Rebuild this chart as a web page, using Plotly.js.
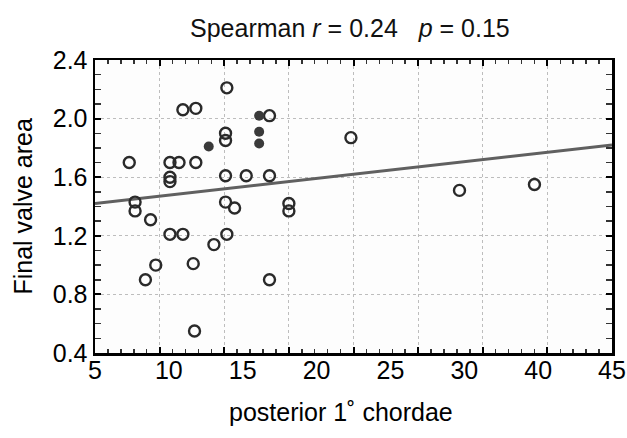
<!DOCTYPE html>
<html>
<head>
<meta charset="utf-8">
<script src="https://cdn.plot.ly/plotly-3.0.1.min.js"></script>
<style>html,body{margin:0;padding:0;background:#fff;}#chart{width:627px;height:438px;}</style>
</head>
<body>
<div id="chart"></div>
<script>
// posterior 1° chordae (x) vs final valve area (y)
const chordaeX = [15.2, 11.8, 12.8, 18.5, 15.1, 15.1, 7.65, 10.8, 11.5, 12.8,
  10.8, 10.8, 15.1, 16.7, 18.5, 8.1, 8.1, 15.1, 15.8, 20.0, 20.0, 9.3,
  10.8, 11.8, 14.2, 15.2, 9.7, 8.9, 12.6, 18.5, 12.7, 24.8, 33.2, 39.0];
const valveArea = [2.21, 2.06, 2.07, 2.02, 1.90, 1.85, 1.70, 1.70, 1.70, 1.70,
  1.60, 1.57, 1.61, 1.61, 1.61, 1.43, 1.37, 1.43, 1.39, 1.42, 1.37, 1.31,
  1.21, 1.21, 1.14, 1.21, 1.00, 0.90, 1.01, 0.90, 0.55, 1.87, 1.51, 1.55];
// overlapping points drawn as dark blobs
const overlapX = [17.7, 17.7, 17.7, 13.8];
const overlapY = [2.02, 1.91, 1.83, 1.81];
// fitted line ends
const fitX = [5, 45];
const fitY = [1.42, 1.82];
// axis labels as printed
const xTickLabels = ['5', '10', '15', '20', '25', '30', '40', '45'];
const yTicks = [0.4, 0.8, 1.2, 1.6, 2.0, 2.4];
const xTitle = 'posterior 1˚ chordae';
const yTitle = 'Final valve area';

const xLabelPos = xTickLabels.map((_, i) => 5 + i * 40 / (xTickLabels.length - 1));
const FONT = 'Liberation Sans, Arial, Helvetica, sans-serif';

const traces = [
  {x: fitX, y: fitY, mode: 'lines', line: {color: '#606060', width: 3}, hoverinfo: 'skip'},
  {x: chordaeX, y: valveArea, mode: 'markers', type: 'scatter',
   marker: {symbol: 'circle-open', size: 11, color: '#2a2a2a', line: {width: 2.4, color: '#2a2a2a'}}},
  {x: overlapX, y: overlapY, mode: 'markers', type: 'scatter',
   marker: {symbol: 'circle', size: 10, color: '#3a3a3a'}},
  {x: [5], y: [0.4], xaxis: 'x2', mode: 'markers', marker: {opacity: 0}, hoverinfo: 'skip'}
];

const layout = {
  width: 627, height: 438,
  margin: {l: 95, r: 15, t: 60, b: 85},
  showlegend: false,
  paper_bgcolor: '#ffffff',
  plot_bgcolor: '#fdfdfd',
  font: {family: FONT, color: '#000', size: 25},
  title: {
    text: 'Spearman <i>r</i> = 0.24   <i>p</i> = 0.15',
    font: {family: FONT, size: 25, color: '#111'},
    x: 0.558, xanchor: 'center', y: 0.935, yanchor: 'middle', xref: 'container', yref: 'container'
  },
  xaxis: {
    range: [5, 45], tickmode: 'linear', tick0: 5, dtick: 5,
    showticklabels: false,
    showgrid: true, gridcolor: '#bdbdbd', griddash: 'dot', gridwidth: 1,
    zeroline: false,
    showline: true, linecolor: '#000', linewidth: 2.5, mirror: 'allticks',
    ticks: 'inside', ticklen: 6, tickwidth: 2, tickcolor: '#000',
    minor: {dtick: 1, tick0: 5, ticks: 'inside', ticklen: 4, tickwidth: 1.5, tickcolor: '#333', showgrid: false}
  },
  xaxis2: {
    overlaying: 'x', anchor: 'y', side: 'bottom',
    range: [5, 45], tickmode: 'array', tickvals: xLabelPos, ticktext: xTickLabels,
    showgrid: false, zeroline: false, showline: false, ticks: '',
    tickfont: {family: FONT, size: 25, color: '#000'},
    ticklabelstandoff: 0
  },
  yaxis: {
    range: [0.4, 2.4], tickmode: 'array', tickvals: yTicks, tickformat: '.1f',
    showgrid: true, gridcolor: '#bdbdbd', griddash: 'dot', gridwidth: 1,
    zeroline: false,
    showline: true, linecolor: '#000', linewidth: 2.5, mirror: 'allticks',
    ticks: 'inside', ticklen: 6, tickwidth: 2, tickcolor: '#000',
    tickfont: {family: FONT, size: 25, color: '#000'},
    minor: {dtick: 0.1, tick0: 0.4, ticks: 'inside', ticklen: 4, tickwidth: 1.5, tickcolor: '#333', showgrid: false}
  },
  annotations: [
    {text: xTitle, xref: 'paper', yref: 'paper', x: 0.476, y: -0.201, xanchor: 'center', yanchor: 'middle',
     showarrow: false, font: {family: FONT, size: 25, color: '#000'}},
    {text: yTitle, xref: 'paper', yref: 'paper', x: -0.141, y: 0.5, xanchor: 'center', yanchor: 'middle',
     textangle: -90, showarrow: false, font: {family: FONT, size: 25, color: '#000'}}
  ]
};

Plotly.newPlot('chart', traces, layout, {staticPlot: true, displayModeBar: false});
</script>
</body>
</html>
